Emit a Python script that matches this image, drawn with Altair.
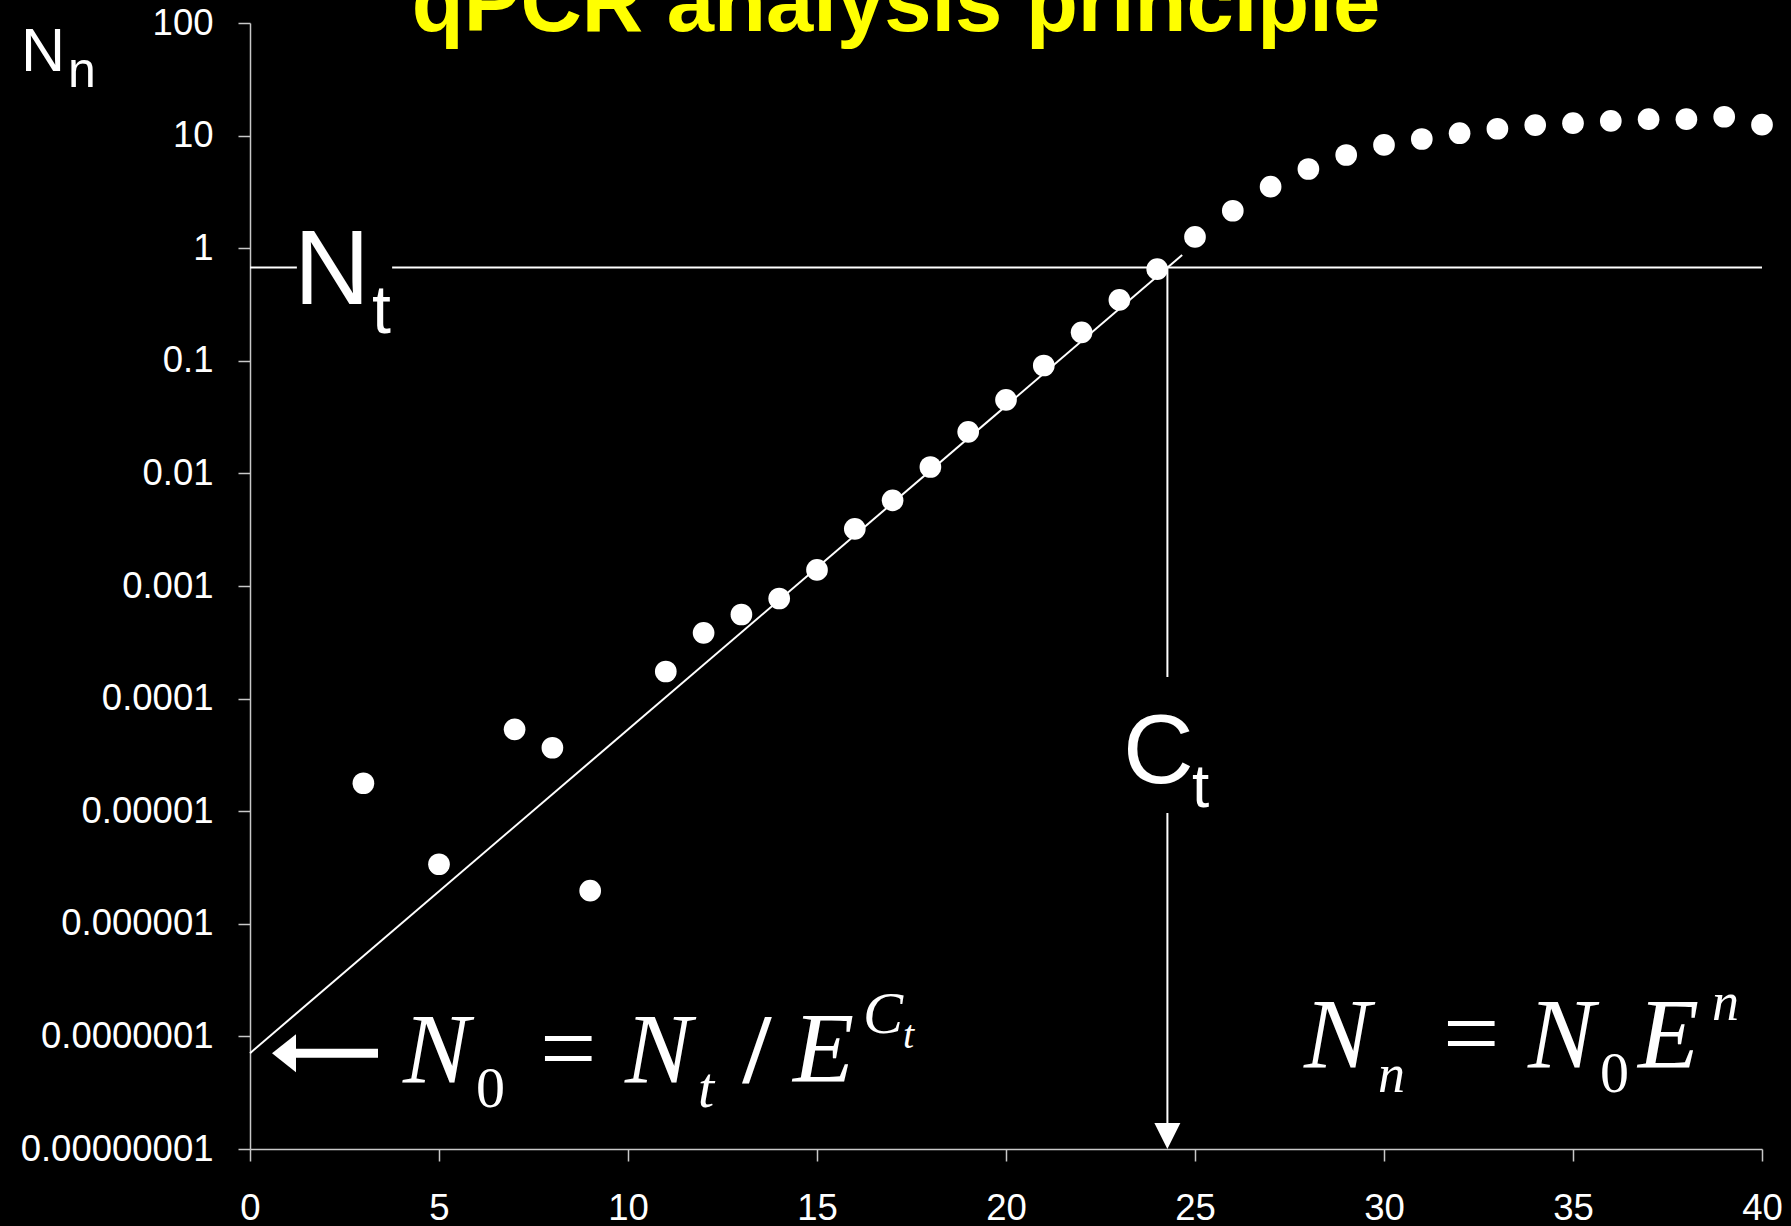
import altair as alt
import pandas as pd

# ---- data ----
cycles = [3, 5, 7, 8, 9, 11, 12, 13, 14, 15, 16, 17, 18, 19, 20, 21, 22, 23, 24,
          25, 26, 27, 28, 29, 30, 31, 32, 33, 34, 35, 36, 37, 38, 39, 40]
fluorescence = [1.77e-5, 3.38e-6, 5.33e-5, 3.66e-5, 1.97e-6,
                1.74e-4, 3.84e-4, 5.58e-4, 7.74e-4, 1.39e-3, 3.22e-3, 5.77e-3,
                1.14e-2, 2.34e-2, 4.5e-2, 9.08e-2, 0.179, 0.347, 0.653, 1.26, 2.15,
                3.52, 5.05, 6.73, 8.26, 9.33, 10.5, 11.5, 12.4, 12.9, 13.5, 14.0,
                14.0, 14.7, 12.5]
fit_cycles = [0, 24.66]
fit_values = [7.1e-8, 0.87]
threshold_Nt = 0.674
cycle_Ct = 24.27
x_ticks = [0, 5, 10, 15, 20, 25, 30, 35, 40]
y_ticks = [1e-8, 1e-7, 1e-6, 1e-5, 1e-4, 1e-3, 1e-2, 1e-1, 1, 10, 100]

# ---- page: black background, no body margin ----
MARGIN = 8
try:
    import altair.utils.html as _h
    _orig_tpl = _h.TEMPLATES["standard"]

    class _BlackPage:
        def render(self, *a, **k):
            out = _orig_tpl.render(*a, **k)
            return out.replace(
                "<head>",
                "<head><style>html,body{background:#000;margin:0;padding:0;}"
                "svg{overflow:visible;}</style>",
                1,
            )

    _h.TEMPLATES["standard"] = _BlackPage()
    MARGIN = 0
except Exception:
    pass

SANS = "Liberation Sans"
SERIF = "Liberation Serif"
OX, OY = 250, 23  # plot origin on the page

pts = pd.DataFrame({"n": cycles, "value": fluorescence})
fit = pd.DataFrame({"n": fit_cycles, "value": fit_values})
one = pd.DataFrame({"k": [0]})

xs = alt.Scale(domain=[0, 40], nice=False)
ys = alt.Scale(type="log", domain=[1e-8, 100], nice=False)

points = alt.Chart(pts).mark_circle(size=470, color="white", opacity=1).encode(
    x=alt.X("n:Q", scale=xs,
            axis=alt.Axis(values=x_ticks, title=None, labelPadding=29,
                          labelFlush=False, labelOverlap=False)),
    y=alt.Y("value:Q", scale=ys,
            axis=alt.Axis(values=y_ticks, title=None, format=".8~f",
                          labelPadding=25, labelOverlap=False, labelLimit=0)),
)

fit_line = alt.Chart(fit).mark_line(color="white", strokeWidth=2).encode(
    x="n:Q", y="value:Q"
)


def rule(**enc):
    return alt.Chart(one).mark_rule(color="white", strokeWidth=2).encode(**enc)


thr_a = rule(x=alt.datum(0), x2=alt.datum(1.24), y=alt.datum(threshold_Nt))
thr_b = rule(x=alt.datum(3.76), x2=alt.datum(40), y=alt.datum(threshold_Nt))
ct_a = rule(x=alt.datum(cycle_Ct), y=alt.datum(threshold_Nt), y2=alt.datum(1.556e-4))
ct_b = rule(x=alt.datum(cycle_Ct), y=alt.datum(9.64e-6), y2=alt.datum(1.7e-8))

ct_head = alt.Chart(one).mark_point(
    shape="M-1,-1L1,-1L0,1Z", filled=True, size=676, color="white",
    opacity=1, strokeWidth=0
).encode(x=alt.datum(cycle_Ct), y=alt.value(1136 - OY))

arrow_shaft = alt.Chart(one).mark_rule(color="white", strokeWidth=9).encode(
    x=alt.value(290 - OX), x2=alt.value(378 - OX), y=alt.datum(fit_values[0])
)
arrow_head = alt.Chart(one).mark_point(
    shape="M-0.63,0L0.63,-1L0.63,1Z", filled=True, size=1444, color="white",
    opacity=1, strokeWidth=0
).encode(x=alt.value(284 - OX), y=alt.datum(fit_values[0]))


def txt(s, px, py, size, font=SANS, style="normal", weight="normal",
        color="white", align="left"):
    return alt.Chart(one).mark_text(
        text=s, font=font, fontSize=size, fontStyle=style, fontWeight=weight,
        color=color, align=align, baseline="alphabetic"
    ).encode(x=alt.value(px - OX), y=alt.value(py - OY))


texts = [
    txt("qPCR analysis principle", 896, 31, 85, weight="bold",
        color="#ffff00", align="center"),
    txt("N", 21, 71, 61),
    txt("n", 68, 87, 50),
    txt("N", 294, 304, 105),
    txt("t", 372, 333, 68),
    txt("C", 1123, 783, 98),
    txt("t", 1192, 807, 62),
    # N0 = Nt / E^Ct
    txt("N", 403, 1082, 100, font=SERIF, style="italic"),
    txt("0", 476, 1107, 58, font=SERIF),
    txt("=", 540, 1082, 100, font=SERIF),
    txt("N", 625, 1082, 100, font=SERIF, style="italic"),
    txt("t", 698, 1107, 58, font=SERIF, style="italic"),
    txt("/", 743, 1082, 100, font=SERIF, weight="bold"),
    txt("E", 793, 1081, 100, font=SERIF, style="italic"),
    txt("C", 863, 1033, 60, font=SERIF, style="italic"),
    txt("t", 903, 1048, 40, font=SERIF, style="italic"),
    # Nn = N0 E^n
    txt("N", 1304, 1067, 100, font=SERIF, style="italic"),
    txt("n", 1378, 1092, 54, font=SERIF, style="italic"),
    txt("=", 1443, 1067, 100, font=SERIF),
    txt("N", 1528, 1067, 100, font=SERIF, style="italic"),
    txt("0", 1600, 1092, 58, font=SERIF),
    txt("E", 1638, 1067, 100, font=SERIF, style="italic"),
    txt("n", 1712, 1020, 54, font=SERIF, style="italic"),
]

chart = alt.layer(
    points, fit_line, thr_a, thr_b, ct_a, ct_b, ct_head,
    arrow_shaft, arrow_head, *texts
).properties(
    width=1512, height=1126,
    padding={"left": OX - MARGIN, "top": OY - MARGIN,
             "right": 1791 - OX - 1512 - MARGIN,
             "bottom": 1226 - OY - 1126 - MARGIN},
    autosize=alt.AutoSizeParams(type="none"),
    background="black",
).configure_view(stroke=None).configure_axis(
    labelFont=SANS, labelFontSize=36.5, labelColor="white",
    domainColor="#c8c8c8", domainWidth=1.5,
    tickColor="#c8c8c8", tickWidth=1.5, tickSize=12, grid=False,
)

chart.save("out.html", embed_options={"renderer": "svg", "actions": False})
